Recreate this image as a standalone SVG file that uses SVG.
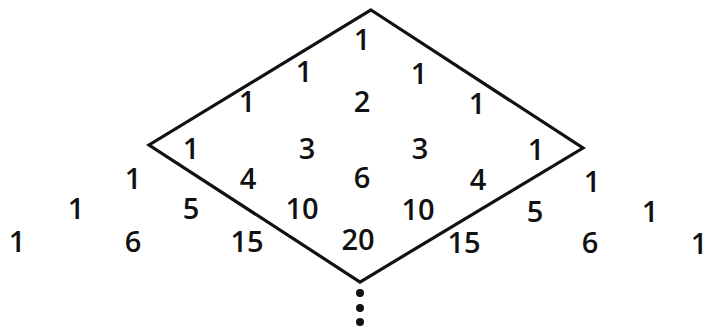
<svg xmlns="http://www.w3.org/2000/svg" width="709" height="327" viewBox="0 0 709 327">
<style>
text{font-family:"Open Sans","Liberation Sans",sans-serif;font-size:29px;font-weight:600;fill:#111;text-anchor:middle;dominant-baseline:central}
.edge{fill:none;stroke:#111;stroke-width:3.2;stroke-linejoin:miter}
.dot{fill:#111}
</style>
<rect width="709" height="327" fill="#fff"/>
<g id="connectors">
<polygon class="edge" points="371,10 583,148 360,282 149,145"/>
<circle class="dot" cx="360" cy="293" r="4"/>
<circle class="dot" cx="360" cy="308" r="4"/>
<circle class="dot" cx="360" cy="322" r="4"/>
</g>
<g id="row0"><text x="362" y="38">1</text></g>
<g id="row1"><text x="304" y="70">1</text><text x="419" y="72">1</text></g>
<g id="row2"><text x="247" y="100">1</text><text x="362" y="100">2</text><text x="477" y="102">1</text></g>
<g id="row3"><text x="191" y="147">1</text><text x="307" y="147">3</text><text x="420" y="147">3</text><text x="536" y="148">1</text></g>
<g id="row4"><text x="133" y="177">1</text><text x="248" y="177">4</text><text x="362" y="176">6</text><text x="478" y="178">4</text><text x="592" y="180">1</text></g>
<g id="row5"><text x="76" y="207">1</text><text x="191" y="207">5</text><text x="302" y="207">10</text><text x="418" y="208">10</text><text x="535" y="210">5</text><text x="650" y="210">1</text></g>
<g id="row6"><text x="17" y="240">1</text><text x="133" y="240">6</text><text x="247" y="240">15</text><text x="358" y="238">20</text><text x="464" y="241">15</text><text x="590" y="241">6</text><text x="699" y="242">1</text></g>
</svg>
